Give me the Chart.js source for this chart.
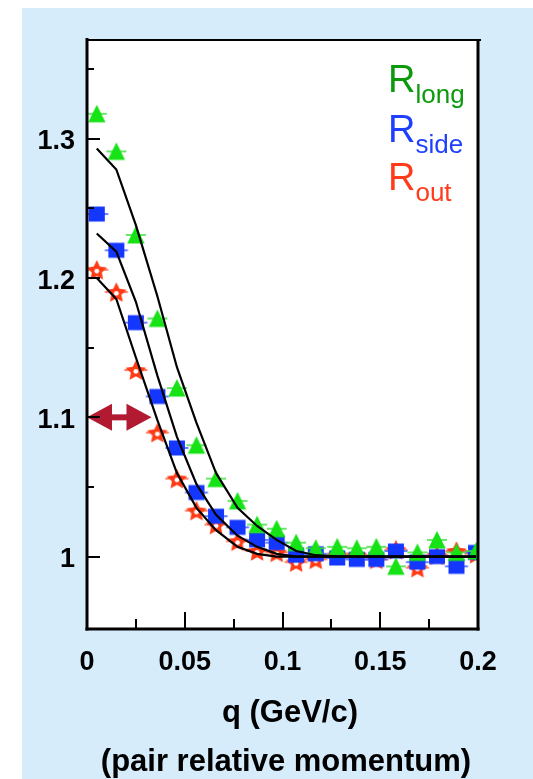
<!DOCTYPE html>
<html>
<head>
<meta charset="utf-8">
<script src="https://cdn.jsdelivr.net/npm/chart.js@4/dist/chart.umd.min.js"></script>
<style>
  html, body { margin: 0; padding: 0; background: #fff; overflow: hidden; }
  canvas { display: block; }
</style>
</head>
<body>
<canvas id="c" width="533" height="779" style="width:533px;height:779px"></canvas>
<script>
// Pair relative momentum bins (GeV/c)
const q = [0.005, 0.015, 0.025, 0.036, 0.046, 0.056, 0.066, 0.077, 0.087, 0.097,
           0.107, 0.117, 0.128, 0.138, 0.148, 0.158, 0.169, 0.179, 0.189, 0.199];

// Correlation function projections
const rLong = [1.318, 1.291, 1.231, 1.171, 1.121, 1.080, 1.056, 1.040, 1.023, 1.020,
               1.010, 1.006, 1.007, 1.006, 1.007, 0.993, 1.003, 1.012, 1.003, 1.004];
const rSide = [1.246, 1.220, 1.168, 1.115, 1.078, 1.046, 1.029, 1.021, 1.012, 1.010,
               1.001, 1.002, 0.999, 0.998, 0.998, 1.004, 0.996, 1.000, 0.993, 1.003];
const rOut  = [1.206, 1.190, 1.134, 1.089, 1.056, 1.033, 1.023, 1.011, 1.004, 1.003,
               0.996, 0.998, 1.001, 1.001, 0.998, 1.005, 0.992, 1.001, 1.004, 1.002];

// Fitted curves
const fitLong = [1.293, 1.278, 1.238, 1.187, 1.136, 1.096, 1.060, 1.035, 1.022, 1.012,
                 1.004, 1.001, 1.000, 1.000, 1.000, 1.000, 1.000, 1.000, 1.000, 1.000];
const fitSide = [1.232, 1.219, 1.183, 1.130, 1.086, 1.052, 1.030, 1.015, 1.007, 1.002,
                 1.000, 1.000, 1.000, 1.000, 1.000, 1.000, 1.000, 1.000, 1.000, 1.000];
const fitOut  = [1.200, 1.185, 1.143, 1.098, 1.060, 1.035, 1.019, 1.007, 1.002, 1.000,
                 1.000, 1.000, 1.000, 1.000, 1.000, 1.000, 1.000, 1.000, 1.000, 1.000];

// Axis ticks
const xTickValues = [0, 0.05, 0.1, 0.15, 0.2];
const xTickLabels = ['0', '0.05', '0.1', '0.15', '0.2'];
const xMinorTicks = [0.025, 0.075, 0.125, 0.175];
const yTickValues = [1, 1.1, 1.2, 1.3];
const yTickLabels = ['1', '1.1', '1.2', '1.3'];
const yMinorTicks = [1.05, 1.15, 1.25, 1.35];

// Legend text and axis titles
const legendMain = 'R';
const legendSubs = ['long', 'side', 'out'];
const xTitle = 'q (GeV/c)';
const xSubtitle = '(pair relative momentum)';

// Width marker: spans q from 0 to the half-height point at C = 1.1
const arrowQ = [0, 0.033];
const arrowLevel = 1.1;

// ---------- styling ----------
const GREEN = '#16e316', GREEN_BAR = '#45e045', GREEN_TXT = '#0c9a0c';
const BLUE = '#1437ff', BLUE_BAR = '#4060ff', BLUE_TXT = '#1f3fff';
const RED = '#ff3a14', RED_BAR = '#ff6040', RED_TXT = '#ff3b1c';
const legendColors = [GREEN_TXT, BLUE_TXT, RED_TXT];
const FONT = '"Liberation Sans", Arial, Helvetica, sans-serif';

function markerCanvas(kind, fill, bar) {
  const c = document.createElement('canvas');
  c.width = 26; c.height = 26;
  const g = c.getContext('2d');
  const cx = 13, cy = 13;
  g.strokeStyle = bar; g.lineWidth = 1.6;
  const half = kind === 'tri' ? 10 : 11.5;
  g.beginPath(); g.moveTo(cx - half, cy); g.lineTo(cx + half, cy); g.stroke();
  g.fillStyle = fill;
  if (kind === 'tri') {
    g.beginPath();
    g.moveTo(cx, cy - 9);
    g.lineTo(cx - 8.7, cy + 8.5);
    g.lineTo(cx + 8.7, cy + 8.5);
    g.closePath(); g.fill();
  } else if (kind === 'sq') {
    g.fillRect(cx - 8, cy - 7.5, 16, 15);
  } else {
    const R = 10.8, r = 5.3;
    g.beginPath();
    for (let i = 0; i < 10; i++) {
      const a = -Math.PI / 2 + i * Math.PI / 5;
      const rad = i % 2 === 0 ? R : r;
      const px = cx + rad * Math.cos(a), py = cy + 1 + rad * Math.sin(a);
      i === 0 ? g.moveTo(px, py) : g.lineTo(px, py);
    }
    g.closePath(); g.fill();
    g.fillStyle = '#fff';
    g.beginPath(); g.arc(cx, cy + 1.3, 2.4, 0, Math.PI * 2); g.fill();
  }
  return c;
}

const toPts = (ys) => q.map((x, i) => ({ x, y: ys[i] }));

const fitStyle = {
  showLine: true, borderColor: '#000', borderWidth: 2.2, pointRadius: 0,
  tension: 0, fill: false, order: 0
};

const frame = {
  id: 'frame',
  beforeDraw(chart) {
    const { ctx, chartArea: a } = chart;
    ctx.save();
    ctx.fillStyle = '#fff';
    ctx.fillRect(0, 0, chart.width, chart.height);
    ctx.fillStyle = '#d6ecfb';
    ctx.fillRect(22, 8, chart.width - 22, chart.height - 8);
    ctx.fillStyle = '#fff';
    ctx.fillRect(a.left, a.top, a.right - a.left, a.bottom - a.top);
    ctx.restore();
  },
  afterDatasetsDraw(chart) {
    const { ctx, scales: { x, y } } = chart;
    // double-headed width arrow
    const x0 = x.getPixelForValue(arrowQ[0]), x1 = x.getPixelForValue(arrowQ[1]);
    const yy = y.getPixelForValue(arrowLevel);
    const head = 25, hh = 13.5;
    ctx.save();
    ctx.fillStyle = '#b11a30';
    ctx.fillRect(x0 + head - 1, yy - 3, (x1 - x0) - 2 * head + 2, 6);
    ctx.beginPath();
    ctx.moveTo(x0, yy); ctx.lineTo(x0 + head, yy - hh); ctx.lineTo(x0 + head, yy + hh);
    ctx.closePath(); ctx.fill();
    ctx.beginPath();
    ctx.moveTo(x1, yy); ctx.lineTo(x1 - head, yy - hh); ctx.lineTo(x1 - head, yy + hh);
    ctx.closePath(); ctx.fill();
    ctx.restore();
  },
  afterDraw(chart) {
    const { ctx, chartArea: a, scales: { x, y } } = chart;
    ctx.save();
    ctx.strokeStyle = '#000';
    ctx.lineCap = 'butt';
    // tick marks
    ctx.lineWidth = 2;
    yTickValues.forEach(v => {
      const p = Math.round(y.getPixelForValue(v)) ;
      ctx.beginPath(); ctx.moveTo(a.left, p); ctx.lineTo(a.left + 13, p); ctx.stroke();
    });
    yMinorTicks.forEach(v => {
      const p = Math.round(y.getPixelForValue(v));
      ctx.beginPath(); ctx.moveTo(a.left, p); ctx.lineTo(a.left + 7, p); ctx.stroke();
    });
    xTickValues.forEach(v => {
      const p = Math.round(x.getPixelForValue(v));
      ctx.beginPath(); ctx.moveTo(p, a.bottom); ctx.lineTo(p, a.bottom - 17); ctx.stroke();
    });
    xMinorTicks.forEach(v => {
      const p = Math.round(x.getPixelForValue(v));
      ctx.beginPath(); ctx.moveTo(p, a.bottom); ctx.lineTo(p, a.bottom - 10); ctx.stroke();
    });
    // frame
    ctx.lineWidth = 2;
    ctx.beginPath(); ctx.moveTo(a.left, a.top); ctx.lineTo(a.right + 3, a.top); ctx.stroke();
    ctx.lineWidth = 3;
    ctx.beginPath(); ctx.moveTo(a.left, a.top - 2); ctx.lineTo(a.left, a.bottom + 1.5); ctx.stroke();
    ctx.beginPath(); ctx.moveTo(a.right, a.top - 1); ctx.lineTo(a.right, a.bottom + 1.5); ctx.stroke();
    ctx.beginPath(); ctx.moveTo(a.left - 1.5, a.bottom); ctx.lineTo(a.right + 1.5, a.bottom); ctx.stroke();

    // legend
    const bases = [92, 141.5, 189.5];
    legendSubs.forEach((s, i) => {
      ctx.fillStyle = legendColors[i];
      ctx.textBaseline = 'alphabetic';
      ctx.textAlign = 'left';
      ctx.font = '38px ' + FONT;
      ctx.fillText(legendMain, 388, bases[i]);
      const w = ctx.measureText(legendMain).width;
      ctx.font = '26px ' + FONT;
      ctx.fillText(s, 388 + w, bases[i] + 11);
    });

    // axis titles
    ctx.fillStyle = '#000';
    ctx.textAlign = 'center';
    ctx.font = 'bold 31px ' + FONT;
    ctx.fillText(xTitle, 290, 722);
    ctx.fillText(xSubtitle, 286, 771);
    ctx.restore();
  }
};

new Chart(document.getElementById('c'), {
  type: 'scatter',
  data: {
    datasets: [
      { label: 'fit long', data: toPts(fitLong), ...fitStyle },
      { label: 'fit side', data: toPts(fitSide), ...fitStyle },
      { label: 'fit out', data: toPts(fitOut), ...fitStyle },
      { label: 'R long', data: toPts(rLong), pointStyle: markerCanvas('tri', GREEN, GREEN_BAR), pointRadius: 9, order: 1 },
      { label: 'R side', data: toPts(rSide), pointStyle: markerCanvas('sq', BLUE, BLUE_BAR), pointRadius: 9, order: 2 },
      { label: 'R out', data: toPts(rOut), pointStyle: markerCanvas('star', RED, RED_BAR), pointRadius: 9, order: 3 }
    ]
  },
  options: {
    responsive: false,
    animation: false,
    devicePixelRatio: 1,
    layout: { padding: { left: 0, top: 40, right: 55, bottom: 0 } },
    plugins: { legend: { display: false }, tooltip: { enabled: false } },
    scales: {
      x: {
        type: 'linear', min: 0, max: 0.2,
        afterFit(s) { s.height = 150; },
        afterBuildTicks(s) { s.ticks = xTickValues.map(v => ({ value: v })); },
        grid: { display: false, drawTicks: false },
        border: { display: false },
        ticks: {
          callback: (v, i) => xTickLabels[i],
          font: { family: FONT, weight: 'bold', size: 27 },
          color: '#000', padding: 17, maxRotation: 0, autoSkip: false
        }
      },
      y: {
        type: 'linear', min: 0.948, max: 1.371,
        afterFit(s) { s.width = 87; },
        afterBuildTicks(s) { s.ticks = yTickValues.map(v => ({ value: v })); },
        grid: { display: false, drawTicks: false },
        border: { display: false },
        ticks: {
          callback: (v, i) => yTickLabels[i],
          font: { family: FONT, weight: 'bold', size: 27 },
          color: '#000', padding: 12, labelOffset: 3, autoSkip: false
        }
      }
    }
  },
  plugins: [frame]
});
</script>
</body>
</html>
